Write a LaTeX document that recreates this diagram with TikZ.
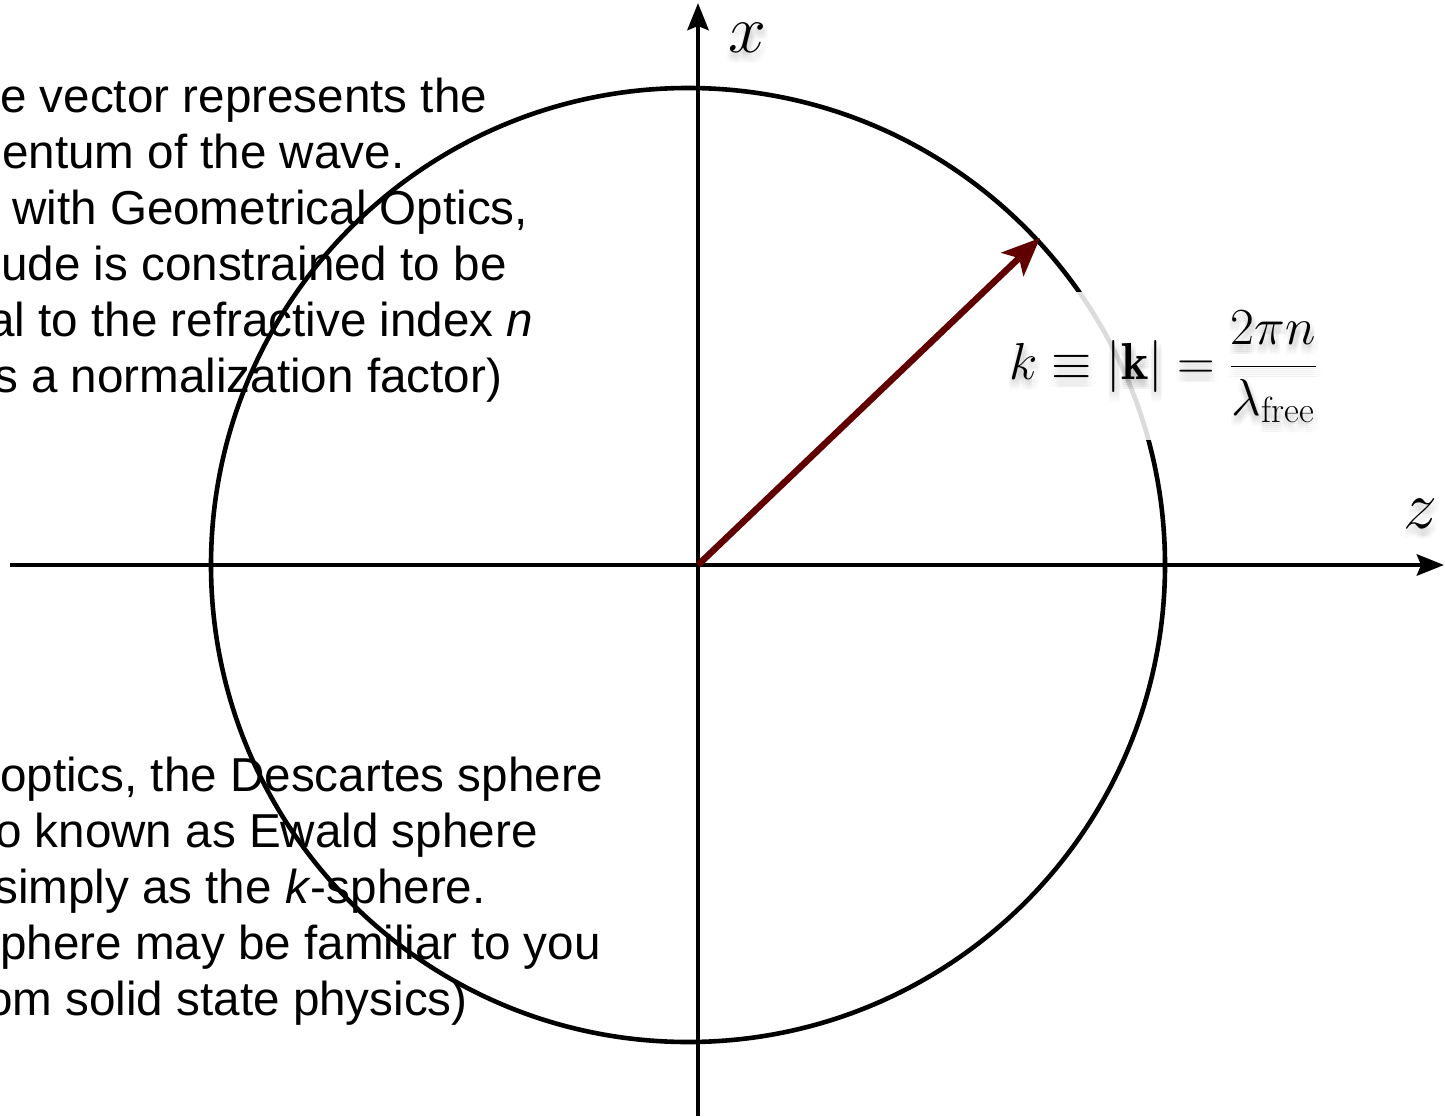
\RequirePackage{fix-cm}
\documentclass[tikz,border=0pt]{standalone}
\usepackage{fontspec}
\usepackage{amsmath}
\newfontfamily\helv{Liberation Sans}
\usetikzlibrary{arrows.meta,calc}
\definecolor{kred}{RGB}{96,0,0}
\tikzset{
  body/.style={font=\helv\fontsize{47.6}{56}\selectfont, anchor=base west, inner sep=0pt},
  axisline/.style={line width=4.8pt, -{Stealth[length=27pt,width=21pt,inset=4pt]}},
  ring/.style={line width=4.6pt},
  kvec/.style={line width=6.5pt, draw=kred, -{Stealth[length=38pt,width=32pt,inset=9pt,fill=kred]}},
  mathlbl/.style={font=\fontsize{52}{62}\selectfont, inner sep=0pt},
  biglbl/.style={font=\fontsize{68}{78}\selectfont, inner sep=0pt},
}
\newcommand{\glowlabel}[4]{%
  \foreach \gx in {-4,-2,0,2,4}{\foreach \gy in {-4,-2,0,2,4}{%
    \node[#1, text opacity=0.012] at ($(#3)+(\gx+1,\gy+6)$) {#4};}}%
  \node[#1] (#2) at (#3) {#4};}
\begin{document}
\begin{tikzpicture}[x=1pt,y=-1pt]
\useasboundingbox (0,0) rectangle (1445,1116);
\clip (0,0) rectangle (1445,1116);
% text blocks
\node[body] (t1) at (0,112) {e vector represents the};
\node[body] (t2) at (2,168) {entum of the wave.};
\node[body] (t3) at (12,224) {with Geometrical Optics,};
\node[body] (t4) at (1,280) {ude is constrained to be};
\node[body] (t5) at (-12,336) {al to the refractive index \textit{n}};
\node[body] (t6) at (-6,392) {s a normalization factor)};
\node[body] (b1) at (0,791) {optics, the Descartes sphere};
\node[body] (b2) at (-5,847) {o known as Ewald sphere};
\node[body] (b3) at (-6,903) {simply as the \textit{k}-sphere.};
\node[body] (b4) at (0,959) {phere may be familiar to you};
\node[body] (b5) at (-14,1015) {om solid state physics)};
% geometry
\coordinate (O) at (698,565);
\coordinate (C) at (688,565);
\coordinate (zs) at (10,565);
\coordinate (ze) at (1444,565);
\coordinate (xs) at (698,1116);
\coordinate (xe) at (698,3);
\coordinate (K) at (1040,238);
\draw[ring] (C) circle[radius=477];
\draw[axisline] (zs) -- (ze);
\draw[axisline] (xs) -- (xe);
\draw[kvec] (O) -- (K);
% translucent label background
\fill[white, fill opacity=0.86] (995,292) rectangle (1330,440);
% labels
\glowlabel{mathlbl}{klabel}{1163,367}{$\displaystyle k \equiv |\mathbf{k}| = \frac{2\pi n}{\lambda_{\mathrm{free}}}$}
\glowlabel{biglbl}{xlabel}{747,38}{$x$}
\glowlabel{biglbl}{zlabel}{1420,514}{$z$}
\end{tikzpicture}
\end{document}
